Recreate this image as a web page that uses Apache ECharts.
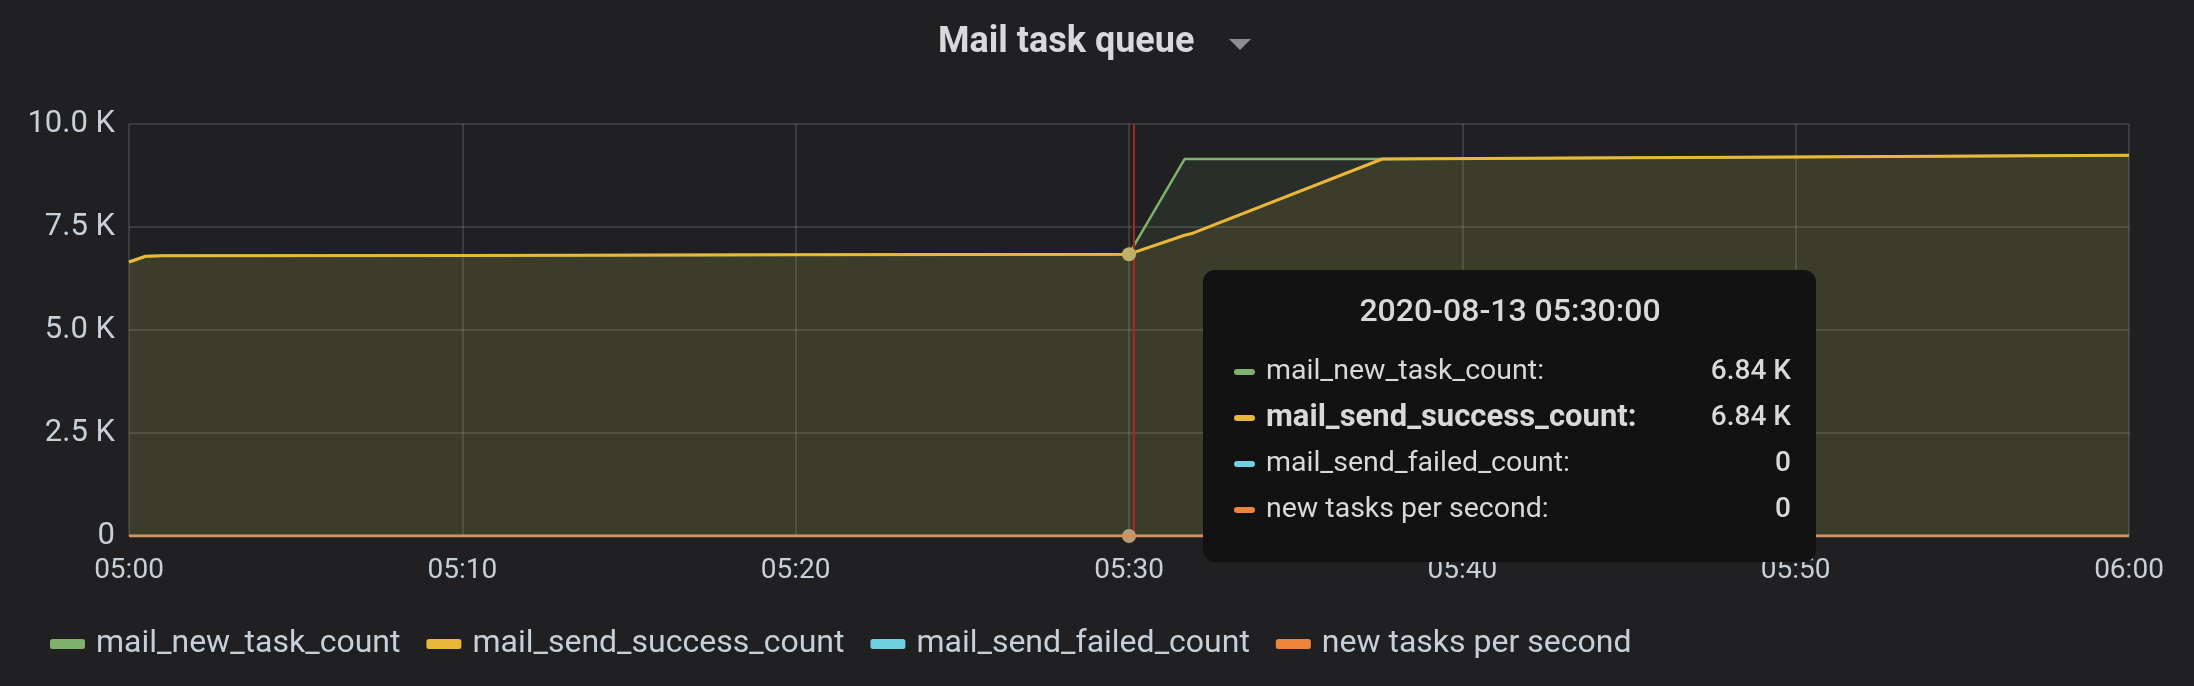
<!DOCTYPE html>
<html><head><meta charset="utf-8">
<script src="https://cdn.jsdelivr.net/npm/echarts@6/dist/echarts.min.js"></script>
<style>html,body{margin:0;padding:0;background:#202023;}#c{width:2194px;height:686px;}</style>
</head><body><div id="c"></div>
<script>
const chartTitle = 'Mail task queue';
const xTickLabels = ['05:00','05:10','05:20','05:30','05:40','05:50','06:00'];
const yTickLabels = ['0','2.5 K','5.0 K','7.5 K','10.0 K'];
const seriesNames = ['mail_new_task_count','mail_send_success_count','mail_send_failed_count','new tasks per second'];
const seriesColors = ['#7EB26D','#EAB839','#6ED0E0','#EF843C'];
const times = ['05:00:00','05:00:30','05:01:00','05:10:00','05:20:00','05:30:00','05:31:40','05:31:55','05:37:36','05:45:00','05:50:00','06:00:00'];
const newTaskCount      = [6650,6790,6800,6810,6825,6840,9150,9150,9150,9180,9200,9240];
const sendSuccessCount  = [6650,6790,6800,6810,6825,6840,7300,7350,9150,9180,9200,9240];
const sendFailedCount   = [0,0,0,0,0,0,0,0,0,0,0,0];
const newTasksPerSecond = [0,0,0,0,0,0,0,0,0,0,0,0];
const hoverTime = '05:30:00';
const hoverLabel = '2020-08-13 05:30:00';

const allValues = [newTaskCount, sendSuccessCount, sendFailedCount, newTasksPerSecond];
function toMin(t){const p=t.split(':').map(Number);return (p[0]-5)*60+p[1]+(p[2]||0)/60;}
const xs = times.map(toMin);
const hoverIdx = times.indexOf(hoverTime);
const hoverX = toMin(hoverTime);
function fmt(v){return v>=1000?(v/1000).toFixed(2)+' K':String(v);}
const lineWidths = [2.5,3,2.5,3];

const series = allValues.map((vals,i)=>({
  name: seriesNames[i], type:'line', showSymbol:false, silent:true,
  data: vals.map((v,j)=>[xs[j],v]),
  color: seriesColors[i],
  lineStyle:{width:lineWidths[i], color: seriesColors[i], opacity: i===3?0.8:1},
  areaStyle:{color: seriesColors[i], opacity:0.1},
  z: 2+i
}));
series[0].markLine = {silent:true, symbol:'none', label:{show:false},
  lineStyle:{color:'#a8261f', width:2, type:'solid'}, data:[{xAxis: hoverX + 0.15}]};
series[1].markPoint = {symbol:'circle', symbolSize:14, label:{show:false},
  itemStyle:{color:'#bdb06a'}, data:[{coord:[hoverX, sendSuccessCount[hoverIdx]]}]};
series[3].markPoint = {symbol:'circle', symbolSize:14, label:{show:false},
  itemStyle:{color:'#b39e7c'}, data:[{coord:[hoverX, newTasksPerSecond[hoverIdx]]}]};

const tipX=1203, tipY=270;
const rowYs=[102,148,194,240];
const tipChildren=[
  {type:'rect', z:100, shape:{x:0,y:0,width:613,height:292,r:12}, style:{fill:'#121213'}},
  {type:'text', z:101, x:307, y:43, style:{text:hoverLabel, align:'center', verticalAlign:'middle',
    font:'500 32px Roboto', fill:'#d8d9da'}}
];
seriesNames.forEach((n,i)=>{
  tipChildren.push({type:'rect', z:101, shape:{x:31,y:rowYs[i]-3,width:21,height:6,r:3}, style:{fill:seriesColors[i]}});
  tipChildren.push({type:'text', z:101, x:63, y:rowYs[i], style:{text:n+':', verticalAlign:'middle',
    font:(i===1?'bold 31px':'28.5px')+' Roboto', fill:'#d8d9da'}});
  tipChildren.push({type:'text', z:101, x:588, y:rowYs[i], style:{text:fmt(allValues[i][hoverIdx]), align:'right', verticalAlign:'middle',
    font:'500 28px Roboto', fill:'#d8d9da'}});
});

const chart = echarts.init(document.getElementById('c'), null, {renderer:'canvas'});
chart.setOption({
  backgroundColor:'#202023',
  animation:false,
  grid:{left:129, right:65, top:124, bottom:150, containLabel:false},
  xAxis:{type:'value', min:0, max:60, interval:10,
    axisLine:{show:false}, axisTick:{show:false},
    splitLine:{show:true, lineStyle:{color:'rgba(255,255,255,0.12)', width:2}},
    axisLabel:{margin:21, color:'#c7d0d9', fontSize:28, fontFamily:'Roboto', formatter:v=>xTickLabels[Math.round(v/10)]}},
  yAxis:{type:'value', min:0, max:10000, interval:2500,
    axisLine:{show:false}, axisTick:{show:false},
    splitLine:{show:true, lineStyle:{color:'rgba(255,255,255,0.12)', width:2}},
    axisLabel:{margin:14, color:'#c7d0d9', fontSize:31, fontFamily:'Roboto', formatter:v=>yTickLabels[Math.round(v/2500)]}},
  legend:{data:seriesNames, left:45, top:623, icon:'roundRect', itemWidth:35, itemHeight:10, itemGap:26,
    textStyle:{color:'#c7d0d9', fontSize:32, fontFamily:'Roboto', padding:[0,0,0,6]}},
  series: series,
  graphic:[
    {type:'text', z:50, x:938, y:43, style:{text:chartTitle, verticalAlign:'middle', font:'bold 36px Roboto', fill:'#d8d9da'}},
    {type:'polygon', z:50, shape:{points:[[1229,39],[1251,39],[1240,50]]}, style:{fill:'#8e8e90'}},
    {type:'group', x:tipX, y:tipY, z:100, children:tipChildren}
  ]
});
</script></body></html>
